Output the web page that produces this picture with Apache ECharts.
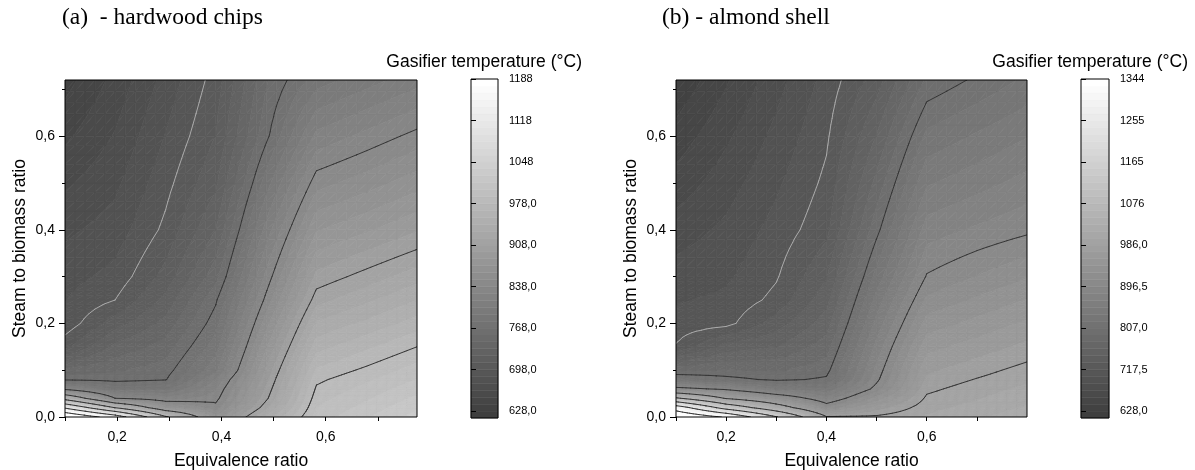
<!DOCTYPE html>
<html><head><meta charset="utf-8">
<script src="https://cdn.jsdelivr.net/npm/echarts@6/dist/echarts.min.js"></script>
<style>html,body{margin:0;padding:0;background:#fff}#c{width:1195px;height:470px}</style>
</head><body><div id="c"></div>
<script>
// ---------- data ----------
const yRows = [0, 0.02, 0.04, 0.06, 0.08, 0.1, 0.15, 0.2, 0.25, 0.3, 0.4, 0.5, 0.6, 0.72];

// (a) hardwood chips: equivalence-ratio columns and temperatures (one list per column, bottom -> top)
const xColsA = [0.1, 0.196, 0.293, 0.389, 0.486, 0.582, 0.679, 0.775];
const tempA010 = [1260, 1110, 955, 830, 765, 748, 706, 690, 686, 682, 672, 661, 649, 635];
const tempA020 = [1155, 976, 838, 788, 763, 755, 736, 716, 698, 690, 680, 672, 664, 655];
const tempA029 = [985, 872, 821, 790, 767, 762, 750, 737, 725, 714, 701, 694, 687, 679];
const tempA039 = [865, 843, 833, 826, 816, 800, 786, 775, 766, 752, 733, 719, 710, 703];
const tempA049 = [937, 917, 905, 899, 893, 887, 872, 857, 842, 830, 808, 786, 765, 755];
const tempA058 = [995, 990, 985, 980, 975, 968, 950, 933, 915, 900, 872, 845, 818, 786];
const tempA068 = [1012, 1006, 1000, 994, 988, 981, 964, 946, 929, 913, 883, 856, 830, 798];
const tempA078 = [1030, 1023, 1016, 1009, 1002, 995, 978, 960, 943, 926, 895, 868, 842, 810];

// (b) almond shell
const xColsB = [0.1, 0.2, 0.3, 0.4, 0.5, 0.6, 0.7, 0.8];
const tempB010 = [1430, 1300, 1085, 910, 829, 788, 719, 708, 701, 694, 680, 664, 649, 630];
const tempB020 = [1335, 1132, 981, 889, 814, 793, 754, 712, 706, 700, 691, 681, 670, 656];
const tempB030 = [1170, 1022, 929, 850, 803, 790, 762, 740, 722, 716, 708, 700, 692, 682];
const tempB040 = [990, 915, 873, 841, 810, 801, 785, 770, 757, 746, 728, 721, 715, 708];
const tempB050 = [990, 964, 934, 904, 892, 886, 872, 857, 843, 828, 802, 782, 763, 740];
const tempB060 = [1003, 996, 989, 982, 975, 968, 951, 933, 915, 898, 874, 850, 826, 795];
const tempB070 = [1014, 1007, 1000, 994, 987, 980, 963, 946, 929, 912, 884, 861, 839, 810];
const tempB080 = [1025, 1018, 1011, 1005, 998, 992, 975, 959, 942, 925, 893, 872, 851, 825];

// colour-scale tick labels (also the contour-line levels)
const scaleTicksA = [628, 698, 768, 838, 908, 978, 1048, 1118, 1188];
const scaleTicksB = [628, 717.5, 807, 896.5, 986, 1075.5, 1165, 1254.5, 1344];

const xTickLabels = [0.2, 0.4, 0.6];
const xTickMarks = [0.1, 0.2, 0.3, 0.4, 0.5, 0.6, 0.7];
const yTickLabels = [0, 0.2, 0.4, 0.6];
const yMinorTicks = [0.1, 0.3, 0.5, 0.7];

const titleA = '(a)  - hardwood chips';
const titleB = '(b) - almond shell';
const scaleTitle = 'Gasifier temperature (\u00B0C)';

// ---------- helpers ----------
const SUB = 6;      // colour sub-levels per labelled step
const SPLIT = 5;    // render-time subdivision of each data cell (bilinear surface)
function makeScale(ticks) {
  const step = (ticks[1] - ticks[0]) / SUB;
  const min = ticks[0] - step, max = ticks[ticks.length - 1];
  const n = Math.round((max - min) / step);
  return { min, max, step, n };
}
const scaleA = makeScale(scaleTicksA), scaleB = makeScale(scaleTicksB);
function grayOf(scale, k) {
  const g = Math.round(62 + k * (255 - 62) / (scale.n - 1));
  return 'rgb(' + g + ',' + g + ',' + g + ')';
}
function bandOf(scale, v) {
  let k = Math.floor((v - scale.min) / scale.step);
  return Math.max(0, Math.min(scale.n - 1, k));
}
function makeCells(xs, cols) {
  const out = [];
  for (let i = 0; i < xs.length - 1; i++)
    for (let j = 0; j < yRows.length - 1; j++)
      out.push([xs[i], yRows[j], xs[i + 1], yRows[j + 1], cols[i][j], cols[i + 1][j], cols[i][j + 1], cols[i + 1][j + 1]]);
  return out;
}
function triangles(api) {
  const x0 = api.value(0), y0 = api.value(1), x1 = api.value(2), y1 = api.value(3);
  const bl = api.coord([x0, y0]), tr = api.coord([x1, y1]);
  const v00 = api.value(4), v10 = api.value(5), v01 = api.value(6), v11 = api.value(7);
  const pt = function (s, t) {
    return { x: bl[0] + s * (tr[0] - bl[0]), y: bl[1] + t * (tr[1] - bl[1]),
      v: v00 * (1 - s) * (1 - t) + v10 * s * (1 - t) + v01 * (1 - s) * t + v11 * s * t };
  };
  const tris = [];
  for (let a = 0; a < SPLIT; a++) for (let b = 0; b < SPLIT; b++) {
    const s0 = a / SPLIT, s1 = (a + 1) / SPLIT, t0 = b / SPLIT, t1 = (b + 1) / SPLIT;
    const p00 = pt(s0, t0), p10 = pt(s1, t0), p01 = pt(s0, t1), p11 = pt(s1, t1);
    tris.push([p00, p10, p11], [p00, p11, p01]);
  }
  return tris;
}
function clip(poly, L, keepAbove) {
  const out = [];
  for (let i = 0; i < poly.length; i++) {
    const a = poly[i], b = poly[(i + 1) % poly.length];
    const ina = keepAbove ? a.v >= L : a.v <= L;
    const inb = keepAbove ? b.v >= L : b.v <= L;
    if (ina) out.push(a);
    if (ina !== inb) {
      const t = (L - a.v) / (b.v - a.v);
      out.push({ x: a.x + t * (b.x - a.x), y: a.y + t * (b.y - a.y), v: L });
    }
  }
  return out;
}
function fillRenderer(scale) {
  return function (params, api) {
    const children = [];
    triangles(api).forEach(function (tri) {
      const vs = tri.map(p => p.v);
      const k0 = bandOf(scale, Math.min.apply(null, vs)), k1 = bandOf(scale, Math.max.apply(null, vs));
      for (let k = k0; k <= k1; k++) {
        let poly = tri;
        if (k > 0) poly = clip(poly, scale.min + k * scale.step, true);
        if (k < scale.n - 1) poly = clip(poly, scale.min + (k + 1) * scale.step, false);
        if (poly.length < 3) continue;
        const col = grayOf(scale, k);
        children.push({ type: 'polygon', shape: { points: poly.map(p => [p.x, p.y]) },
          style: { fill: col, stroke: col, lineWidth: 0.7 } });
      }
    });
    return { type: 'group', children: children };
  };
}
function lineRenderer(levels) {
  return function (params, api) {
    const children = [];
    triangles(api).forEach(function (tri) {
      levels.forEach(function (lv, li) {
        const L = lv + 1e-4, pts = [];
        for (let e = 0; e < 3; e++) {
          const a = tri[e], b = tri[(e + 1) % 3];
          if ((a.v - L) * (b.v - L) < 0) {
            const t = (L - a.v) / (b.v - a.v);
            pts.push([a.x + t * (b.x - a.x), a.y + t * (b.y - a.y)]);
          }
        }
        if (pts.length === 2) children.push({ type: 'line',
          shape: { x1: pts[0][0], y1: pts[0][1], x2: pts[1][0], y2: pts[1][1] },
          style: { stroke: li === 1 ? '#a9a9a9' : '#353535', lineWidth: 1, lineCap: 'round' } });
      });
    });
    return { type: 'group', children: children };
  };
}
function barRenderer(scale) {
  return function (params, api) {
    const lo = api.value(0), hi = api.value(1), k = api.value(2);
    const p0 = api.coord([0, lo]), p1 = api.coord([1, hi]);
    const col = grayOf(scale, k);
    return { type: 'rect', shape: { x: p0[0], y: p1[1], width: p1[0] - p0[0], height: p0[1] - p1[1] },
      style: { fill: col, stroke: col, lineWidth: 0.5 } };
  };
}
function barData(scale) {
  const out = [];
  for (let k = 0; k < scale.n; k++) out.push([scale.min + k * scale.step, scale.min + (k + 1) * scale.step, k]);
  return out;
}
const comma1 = v => v.toFixed(1).replace('.', ',');
const scaleFmt = v => (v >= 1000 ? String(Math.round(v)) : v.toFixed(1).replace('.', ','));

const SANS = '"Liberation Sans", Arial, sans-serif';
const SERIF = '"Liberation Serif", "Times New Roman", serif';

function plotAxes(g, xmax) {
  const x = { gridIndex: g, type: 'value', min: 0.1, max: xmax, position: 'bottom',
    axisLine: { show: false }, splitLine: { show: false },
    axisTick: { show: true, customValues: xTickMarks, length: 4, lineStyle: { color: '#000', width: 1 } },
    axisLabel: { customValues: xTickLabels, formatter: comma1, fontSize: 14, color: '#000', margin: 13, fontFamily: SANS },
    name: 'Equivalence ratio', nameLocation: 'middle', nameGap: 35,
    nameTextStyle: { fontSize: 17.5, color: '#000', fontFamily: SANS } };
  const y = { gridIndex: g, type: 'value', min: 0, max: 0.72, position: 'left',
    axisLine: { show: false }, splitLine: { show: false },
    axisTick: { show: true, customValues: yTickLabels, length: 6, lineStyle: { color: '#000', width: 1 } },
    axisLabel: { customValues: yTickLabels, formatter: comma1, fontSize: 14, color: '#000', margin: 10, fontFamily: SANS },
    name: 'Steam to biomass ratio', nameLocation: 'middle', nameGap: 36,
    nameTextStyle: { fontSize: 17.5, color: '#000', fontFamily: SANS } };
  const yMinor = { gridIndex: g, type: 'value', min: 0, max: 0.72, position: 'left',
    axisLine: { show: false }, splitLine: { show: false }, axisLabel: { show: false },
    axisTick: { show: true, customValues: yMinorTicks, length: 3, lineStyle: { color: '#000', width: 1 } } };
  return { x: x, y: [y, yMinor] };
}
function barAxes(g, scale, ticks) {
  const x = { gridIndex: g, type: 'value', min: 0, max: 1, show: false };
  const y = { gridIndex: g, type: 'value', min: scale.min, max: scale.max, position: 'right',
    axisLine: { show: false }, splitLine: { show: false },
    axisTick: { show: true, customValues: ticks, length: 5, lineStyle: { color: '#000', width: 1 } },
    axisLabel: { customValues: ticks, formatter: scaleFmt, fontSize: 11, color: '#000', margin: 11, fontFamily: SANS } };
  return { x: x, y: y };
}

const colsA = [tempA010, tempA020, tempA029, tempA039, tempA049, tempA058, tempA068, tempA078];
const colsB = [tempB010, tempB020, tempB030, tempB040, tempB050, tempB060, tempB070, tempB080];
const cellsA = makeCells(xColsA, colsA), cellsB = makeCells(xColsB, colsB);

const pA = plotAxes(0, 0.775), pB = plotAxes(2, 0.8);
const bA = barAxes(1, scaleA, scaleTicksA), bB = barAxes(3, scaleB, scaleTicksB);

const frame = { show: true, borderColor: '#000', borderWidth: 1, backgroundColor: 'transparent',
  containLabel: false, outerBoundsMode: 'none' };
const option = {
  animation: false,
  backgroundColor: '#fff',
  grid: [
    Object.assign({ left: 65, top: 80, width: 352, height: 337 }, frame),
    Object.assign({ left: 471, top: 79, width: 27, height: 339 }, frame),
    Object.assign({ left: 676, top: 80, width: 351, height: 337 }, frame),
    Object.assign({ left: 1081, top: 79, width: 28, height: 339 }, frame)
  ],
  xAxis: [pA.x, bA.x, pB.x, bB.x],
  yAxis: [pA.y[0], pA.y[1], bA.y, pB.y[0], pB.y[1], bB.y],
  graphic: [
    { type: 'text', x: 62, y: 18, style: { text: titleA, font: '23.5px ' + SERIF, fill: '#000', textVerticalAlign: 'middle' } },
    { type: 'text', x: 662, y: 18, style: { text: titleB, font: '23.5px ' + SERIF, fill: '#000', textVerticalAlign: 'middle' } },
    { type: 'text', x: 582, y: 62, style: { text: scaleTitle, font: '17.5px ' + SANS, fill: '#000', textAlign: 'right', textVerticalAlign: 'middle' } },
    { type: 'text', x: 1188, y: 62, style: { text: scaleTitle, font: '17.5px ' + SANS, fill: '#000', textAlign: 'right', textVerticalAlign: 'middle' } }
  ],
  series: [
    { type: 'custom', xAxisIndex: 0, yAxisIndex: 0, data: cellsA, encode: { x: [0, 2], y: [1, 3] },
      renderItem: fillRenderer(scaleA), silent: true, z: -3, clip: true },
    { type: 'custom', xAxisIndex: 0, yAxisIndex: 0, data: cellsA, encode: { x: [0, 2], y: [1, 3] },
      renderItem: lineRenderer(scaleTicksA), silent: true, z: -2, clip: true },
    { type: 'custom', xAxisIndex: 1, yAxisIndex: 2, data: barData(scaleA), encode: { y: [0, 1] },
      renderItem: barRenderer(scaleA), silent: true, z: -3 },
    { type: 'custom', xAxisIndex: 2, yAxisIndex: 3, data: cellsB, encode: { x: [0, 2], y: [1, 3] },
      renderItem: fillRenderer(scaleB), silent: true, z: -3, clip: true },
    { type: 'custom', xAxisIndex: 2, yAxisIndex: 3, data: cellsB, encode: { x: [0, 2], y: [1, 3] },
      renderItem: lineRenderer(scaleTicksB), silent: true, z: -2, clip: true },
    { type: 'custom', xAxisIndex: 3, yAxisIndex: 5, data: barData(scaleB), encode: { y: [0, 1] },
      renderItem: barRenderer(scaleB), silent: true, z: -3 }
  ]
};
const chart = echarts.init(document.getElementById('c'), null, { renderer: 'canvas' });
chart.setOption(option);
</script></body></html>
